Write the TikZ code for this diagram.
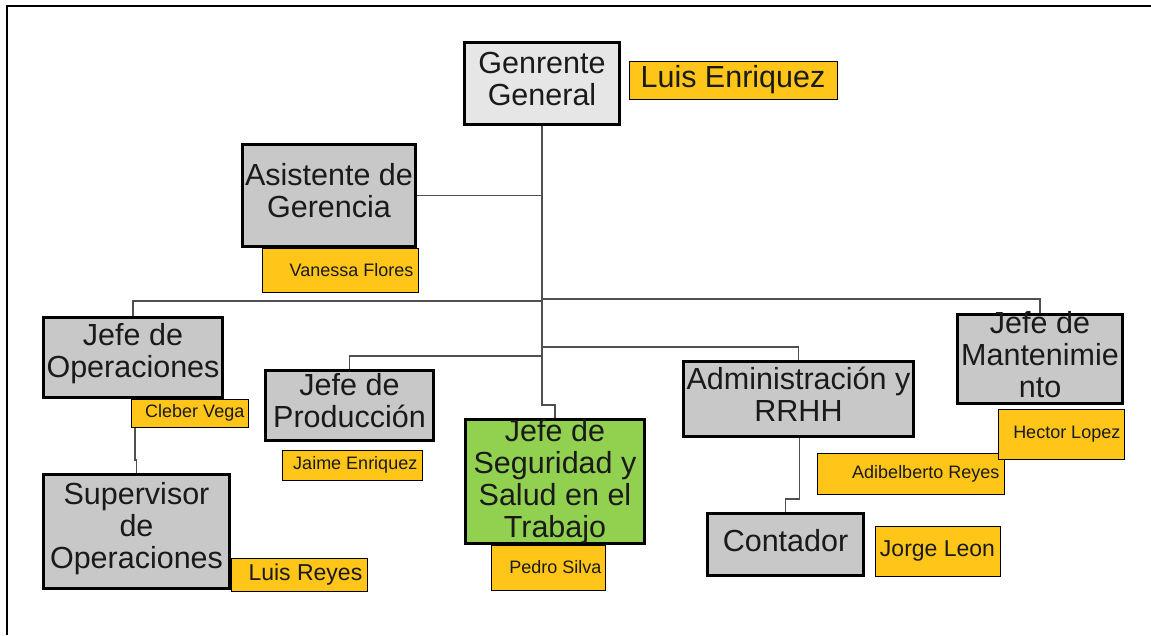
\documentclass[tikz,border=0pt]{standalone}
\usepackage{fontspec}
\setmainfont{Liberation Sans}
\usetikzlibrary{backgrounds}
\definecolor{amber}{HTML}{FFC519}
\definecolor{boxgray}{HTML}{C8C8C8}
\definecolor{lightgray2}{HTML}{E6E6E6}
\definecolor{okgreen}{HTML}{92D050}
\definecolor{linegray}{HTML}{505050}
\definecolor{txt}{HTML}{1A1A1A}
\newcommand{\bigf}{\fontsize{30.5}{32}\selectfont}
\newcommand{\midf}{\fontsize{23}{25}\selectfont}
\newcommand{\smallf}{\fontsize{18}{20}\selectfont}
\tikzset{
  mainbox/.style={draw=black, fill=boxgray, line width=3pt, inner sep=0pt},
  bigtext/.style={font=\bigf, text=txt, align=center, inner sep=0pt},
  amberbox/.style={draw=black, fill=amber, line width=1pt, inner sep=0pt},
  smalltext/.style={font=\smallf, text=txt, inner sep=0pt, anchor=east, xshift=-5pt},
  midtext/.style={font=\midf, text=txt, inner sep=0pt},
  conn/.style={draw=linegray, line width=1.6pt},
  frameline/.style={draw=black, line width=1.3pt}
}
\begin{document}
\begin{tikzpicture}[x=1pt,y=-1pt]
\useasboundingbox (0,0) rectangle (1151,635);

% amber name boxes (drawn first, beneath the main boxes)
\node[amberbox, minimum width=208, minimum height=38, font=\bigf, text=txt] (luisE) at (733,80) {Luis Enriquez};
\node[amberbox, minimum width=156, minimum height=44, label={[smalltext]east:Vanessa Flores}] (vane) at (340,270) {};
\node[amberbox, minimum width=117, minimum height=28, label={[smalltext, xshift=1pt]east:Cleber Vega}] (cleb) at (189.5,413) {};
\node[amberbox, minimum width=136, minimum height=33, label={[midtext, anchor=east, xshift=-5pt]east:Luis Reyes}] (luisR) at (299,574.5) {};
\node[amberbox, minimum width=140, minimum height=30, label={[smalltext]east:Jaime Enriquez}] (jaime) at (352,465) {};
\node[amberbox, minimum width=114, minimum height=45, label={[smalltext, xshift=1pt]east:Pedro Silva}] (pedro) at (548,567.5) {};
\node[amberbox, minimum width=125, minimum height=50, label={[midtext]center:Jorge Leon}] (jorge) at (937.5,551) {};
\node[amberbox, minimum width=187, minimum height=41, label={[smalltext]east:Adibelberto Reyes}] (adib) at (910.5,473.5) {};
\node[amberbox, minimum width=126, minimum height=50, label={[smalltext, xshift=1pt]east:Hector Lopez}] (hect) at (1061,434) {};

% main boxes
\node[mainbox, fill=lightgray2, minimum width=155, minimum height=82, label={[bigtext, yshift=5pt]center:Genrente\\General}] (gg) at (542,83.5) {};
\node[mainbox, minimum width=173, minimum height=102, label={[bigtext, yshift=5pt]center:Asistente de\\Gerencia}] (asis) at (329,195.5) {};
\node[mainbox, minimum width=179, minimum height=80, label={[bigtext, yshift=4pt]center:Jefe de\\Operaciones}] (jop) at (133,357.5) {};
\node[mainbox, minimum width=186, minimum height=114, label={[bigtext, yshift=3pt]center:Supervisor\\de\\Operaciones}] (sup) at (136.5,531.5) {};
\node[mainbox, minimum width=168, minimum height=70, label={[bigtext, yshift=5pt]center:Jefe de\\Producción}] (prod) at (349.5,405.5) {};
\node[mainbox, fill=okgreen, minimum width=179, minimum height=124, label={[bigtext]center:Jefe de\\Seguridad y\\Salud en el\\Trabajo}] (seg) at (555,481.5) {};
\node[mainbox, minimum width=230, minimum height=75, label={[bigtext, yshift=5pt]center:Administración y\\RRHH}] (adm) at (798.5,399) {};
\node[mainbox, minimum width=156, minimum height=62, label={[bigtext, yshift=4pt]center:Contador}] (cont) at (785.5,544.5) {};
\node[mainbox, minimum width=165, minimum height=89, label={[bigtext, yshift=4pt]center:Jefe de\\Mantenimie\\nto}] (mant) at (1040,359) {};

\begin{scope}[on background layer]
  \draw[frameline] (7,635) -- (7,6) -- (1151,6);
  % trunk to Seguridad
  \draw[conn] (gg.south) -- (gg.south |- 0,405) -| (seg.north);
  % asistente
  \draw[conn] (asis.east) -- (asis.east -| gg.south);
  % top bus
  \draw[conn] (jop.north) |- (gg.south |- 0,301);
  \draw[conn] (gg.south |- 0,299) -| (mant.north);
  % second bus
  \draw[conn] (prod.north) |- (gg.south |- 0,356);
  \draw[conn] (gg.south |- 0,347) -| (adm.north);
  % operations to supervisor
  \draw[conn] ([xshift=2pt]jop.south) -- ++(0,61) -| (sup.north);
  % administration to contador
  \draw[conn] ([xshift=1pt]adm.south) -- ++(0,61) -| (cont.north);
\end{scope}
\end{tikzpicture}
\end{document}
